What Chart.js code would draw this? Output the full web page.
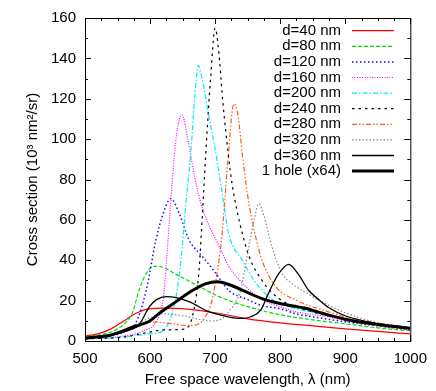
<!DOCTYPE html>
<html>
<head>
<meta charset="utf-8">
<script src="https://cdn.jsdelivr.net/npm/chart.js@4.4.0/dist/chart.umd.min.js"></script>
<style>
  html, body { margin: 0; padding: 0; background: #fff; }
  #wrap { width: 436px; height: 391px; }
</style>
</head>
<body>
<div id="wrap"><canvas id="chart" width="436" height="391"></canvas></div>
<script>
// wavelength (nm) and cross section (10^3 nm^2/sr)
const names = ['d=40 nm', 'd=80 nm', 'd=120 nm', 'd=160 nm', 'd=200 nm',
               'd=240 nm', 'd=280 nm', 'd=320 nm', 'd=360 nm', '1 hole (x64)'];

const wl40 = [500, 520, 540, 560, 580, 600, 620, 650, 700, 750, 800, 850, 900, 950, 1000];
const cs40 = [2.5, 3.5, 6, 10, 14, 16, 16.3, 16, 14, 11, 9, 7.5, 6, 4.8, 3.5];

const wl80 = [500, 530, 550, 565, 573, 583, 595, 606, 620, 640, 670, 706, 750, 800, 850, 900, 950, 1000];
const cs80 = [2, 3.5, 6, 10, 14, 25, 34, 37, 36.5, 33, 28, 22, 17, 13, 10.5, 8.5, 6.5, 5];

const wl120 = [500, 540, 560, 578, 594, 609, 620, 632, 645, 660, 680, 700, 721, 750, 772, 800, 824, 850, 900, 950, 1000];
const cs120 = [1.5, 2.5, 4.5, 9, 25, 50, 63, 70.5, 63, 50, 42, 34, 25, 20.5, 17.5, 16, 13.5, 12, 9.5, 7.5, 5.5];

const wl160 = [500, 560, 590, 610, 620, 627, 634, 641, 649, 658, 668, 680, 691, 706, 721, 747, 772, 800, 824, 874, 900, 950, 1000];
const cs160 = [1, 2.5, 5, 10, 20, 47, 79, 103, 112, 100, 82, 66, 57, 47, 37, 27, 20.5, 17, 14.5, 12, 10, 7.5, 5.5];

const wl200 = [500, 560, 600, 620, 634, 643, 649, 655, 663, 668, 674, 680, 690, 700, 710, 721, 742, 762, 788, 824, 874, 900, 950, 1000];
const cs200 = [1, 2, 3.5, 5, 14, 28, 45, 68, 95, 118, 136.5, 130, 112, 95, 75, 53, 40, 29, 20.5, 16, 13, 11, 8, 6];

const wl240 = [500, 560, 600, 620, 650, 665, 675, 680, 686, 693, 700, 705, 712, 720, 726, 734, 742, 752, 772, 798, 849, 900, 950, 1000];
const cs240 = [1, 2, 4.5, 5.5, 5.8, 12, 34, 60, 95, 130, 155, 145, 118, 93, 78, 64, 53, 42, 30, 21, 14.5, 11, 8, 6];

const wl280 = [500, 540, 570, 590, 605, 630, 660, 675, 685, 695, 705, 711, 719, 729, 735, 742, 750, 762, 772, 793, 824, 874, 900, 950, 1000];
const cs280 = [1.5, 3, 6, 8.5, 9.4, 8.7, 7.6, 8.5, 12, 20, 38, 54, 87, 117.5, 112, 92, 72, 52, 40, 27, 20.3, 14.5, 12, 9, 6.5];

const wl320 = [500, 540, 570, 600, 620, 650, 680, 695, 710, 722, 731, 739, 752, 760, 767, 775, 787, 803, 820, 834, 874, 900, 950, 1000];
const cs320 = [1.5, 3, 7, 11.5, 13.5, 12.5, 10.5, 9.9, 11, 15, 19, 25, 47, 60, 68, 62, 47, 33.5, 28, 25, 17.8, 14, 9, 6.5];

const wl360 = [500, 540, 565, 583, 599, 610, 625, 640, 660, 690, 720, 741, 755, 770, 782, 797, 813, 828, 844, 860, 875, 900, 950, 1000];
const cs360 = [1.5, 3, 5, 8, 17, 20.5, 22, 21.5, 19.5, 14.5, 12, 11.2, 12, 15.3, 23.6, 33, 38, 33, 25, 20.3, 16.5, 12.5, 8.5, 6.3];

const wlHole = [500, 540, 573, 600, 614, 640, 665, 685, 703, 721, 747, 772, 798, 820, 839, 860, 874, 900, 950, 1000];
const csHole = [1.5, 3, 6.8, 10, 13.7, 19.5, 25, 28.3, 29.4, 28, 24.4, 21, 18.7, 17.3, 16.2, 14.2, 12.9, 10.8, 8.2, 6.3];

const xTicks = [500, 600, 700, 800, 900, 1000];
const yTicks = [0, 20, 40, 60, 80, 100, 120, 140, 160];

const allWl = [wl40, wl80, wl120, wl160, wl200, wl240, wl280, wl320, wl360, wlHole];
const allCs = [cs40, cs80, cs120, cs160, cs200, cs240, cs280, cs320, cs360, csHole];

const styles = [
  { color: '#ff0000', width: 1.2, dash: [] },
  { color: '#00dd00', width: 1.2, dash: [4, 2] },
  { color: '#1010ff', width: 1.5, dash: [1.5, 2.5] },
  { color: '#ff00ff', width: 1.2, dash: [1, 1.5] },
  { color: '#00f0f0', width: 1.2, dash: [5, 2, 1.5, 2] },
  { color: '#000000', width: 1.2, dash: [2.5, 4] },
  { color: '#ff5a1a', width: 1.2, dash: [5, 2, 1.5, 2, 1.5, 2] },
  { color: '#888888', width: 1.2, dash: [1.5, 2] },
  { color: '#000000', width: 1.3, dash: [] },
  { color: '#000000', width: 3, dash: [] }
];

const FONT = '"Liberation Sans", Arial, Helvetica, sans-serif';

const datasets = names.map((name, i) => ({
  label: name,
  data: allWl[i].map((x, k) => ({ x: x, y: allCs[i][k] })),
  borderColor: styles[i].color,
  borderWidth: styles[i].width,
  borderDash: styles[i].dash,
  pointRadius: 0,
  fill: false,
  cubicInterpolationMode: 'monotone',
  order: names.length - i
}));

// frame with inward ticks on all four sides
const framePlugin = {
  id: 'frame',
  afterDatasetsDraw(chart) {
    const { ctx, chartArea: a, scales: { x, y } } = chart;
    ctx.save();
    ctx.strokeStyle = '#000';
    ctx.lineWidth = 1;
    ctx.setLineDash([]);
    ctx.strokeRect(a.left + 0.5, a.top + 0.5, a.right - a.left, a.bottom - a.top);
    ctx.beginPath();
    for (let v = 500; v <= 1000; v += 25) {
      const px = Math.round(x.getPixelForValue(v)) + 0.5;
      const len = v % 100 === 0 ? 6 : 3;
      ctx.moveTo(px, a.bottom); ctx.lineTo(px, a.bottom - len);
      ctx.moveTo(px, a.top); ctx.lineTo(px, a.top + len);
    }
    for (let v = 0; v <= 160; v += 10) {
      const py = Math.round(y.getPixelForValue(v)) + 0.5;
      const len = v % 20 === 0 ? 6 : 3;
      ctx.moveTo(a.left, py); ctx.lineTo(a.left + len, py);
      ctx.moveTo(a.right, py); ctx.lineTo(a.right - len, py);
    }
    ctx.stroke();
    ctx.restore();
  }
};

// gnuplot-style key: right-aligned text, then a line sample
const keyPlugin = {
  id: 'key',
  afterDraw(chart) {
    const ctx = chart.ctx;
    ctx.save();
    ctx.font = '15px ' + FONT;
    ctx.textAlign = 'right';
    ctx.textBaseline = 'middle';
    chart.data.datasets.forEach((ds, i) => {
      const yy = 30.7 + i * 15.6;
      ctx.fillStyle = '#000';
      ctx.fillText(ds.label, 341, yy);
      ctx.beginPath();
      ctx.strokeStyle = ds.borderColor;
      ctx.lineWidth = ds.borderWidth;
      ctx.setLineDash(ds.borderDash);
      ctx.moveTo(352, yy);
      ctx.lineTo(394, yy);
      ctx.stroke();
    });
    ctx.restore();
  }
};

const ctx = document.getElementById('chart').getContext('2d');
const myChart = new Chart(ctx, {
  type: 'line',
  data: { datasets: datasets },
  options: {
    responsive: false,
    animation: false,
    devicePixelRatio: 1,
    layout: { padding: { left: 0, right: 24, top: 18, bottom: 0 } },
    plugins: {
      legend: { display: false },
      tooltip: { enabled: false }
    },
    scales: {
      x: {
        type: 'linear',
        min: 500,
        max: 1000,
        grid: { display: false, drawTicks: false },
        border: { display: false },
        afterBuildTicks: (s) => { s.ticks = xTicks.map(v => ({ value: v })); },
        afterFit: (s) => { s.height = 50; },
        ticks: {
          color: '#000',
          font: { size: 15, family: FONT },
          padding: 9,
          maxRotation: 0,
          callback: (v) => String(v)
        },
        title: {
          display: true,
          text: 'Free space wavelength, λ (nm)',
          color: '#000',
          font: { size: 15, family: FONT },
          padding: { top: 0, bottom: 2 }
        }
      },
      y: {
        min: 0,
        max: 160,
        grid: { display: false, drawTicks: false },
        border: { display: false },
        afterBuildTicks: (s) => { s.ticks = yTicks.map(v => ({ value: v })); },
        afterFit: (s) => { s.width = 85; },
        ticks: {
          color: '#000',
          font: { size: 15, family: FONT },
          padding: 9,
          callback: (v) => String(v)
        },
        title: {
          display: true,
          text: 'Cross section (10³ nm²/sr)',
          color: '#000',
          font: { size: 15, family: FONT },
          padding: { top: 24, bottom: 0 }
        }
      }
    }
  },
  plugins: [framePlugin, keyPlugin]
});
</script>
</body>
</html>
